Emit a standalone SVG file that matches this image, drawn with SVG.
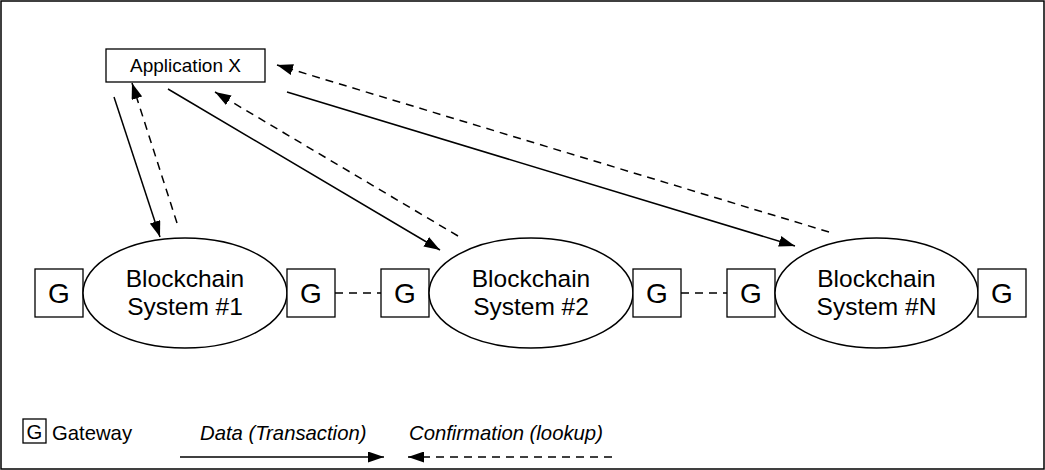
<svg xmlns="http://www.w3.org/2000/svg" width="1045" height="470" viewBox="0 0 1045 470">
<defs>
<marker id="ah" viewBox="0 0 16 11" refX="16" refY="5.5" markerWidth="16" markerHeight="11" markerUnits="userSpaceOnUse" orient="auto">
<path d="M0,0 L16,5.5 L0,11 Z" fill="#000"/>
</marker>
</defs>
<style>
text{font-family:"Liberation Sans",Arial,Helvetica,sans-serif;fill:#000}
.box{fill:#fff;stroke:#000;stroke-width:1.3}
.ell{fill:#fff;stroke:#000;stroke-width:1.5}
.g{font-size:28px;text-anchor:middle}
.bc{font-size:24.5px;text-anchor:middle}
.app{font-size:19px;text-anchor:middle}
.leg{font-size:20.3px}
.it{font-style:italic}
.solid{stroke:#000;stroke-width:1.5;fill:none}
.dash{stroke:#000;stroke-width:1.5;fill:none;stroke-dasharray:8,6}
</style>
<rect x="1" y="1" width="1043" height="468" fill="#fff" stroke="#000" stroke-width="1.5"/>

<g id="connectors">
<line class="solid" x1="114" y1="97" x2="160" y2="237" marker-end="url(#ah)"/>
<line class="dash" x1="177" y1="223" x2="132" y2="83" marker-end="url(#ah)"/>
<line class="solid" x1="168" y1="89" x2="440" y2="250" marker-end="url(#ah)"/>
<line class="dash" x1="458" y1="236" x2="215" y2="92" marker-end="url(#ah)"/>
<line class="solid" x1="287" y1="92" x2="795" y2="246" marker-end="url(#ah)"/>
<line class="dash" x1="829" y1="232" x2="277" y2="65" marker-end="url(#ah)"/>
<line class="dash" x1="335" y1="293" x2="381" y2="293"/>
<line class="dash" x1="681" y1="293" x2="727" y2="293"/>
</g>

<g id="app-x">
<rect class="box" x="106" y="49" width="159" height="33"/>
<text class="app" x="185.5" y="72">Application X</text>
</g>

<g id="gw-1a"><rect class="box" x="35" y="269" width="48" height="48"/><text class="g" x="59" y="303">G</text></g>
<g id="bc-1">
<ellipse class="ell" cx="185" cy="293" rx="102" ry="55"/>
<text class="bc" x="185" y="287">Blockchain</text>
<text class="bc" x="185" y="315">System #1</text>
</g>
<g id="gw-1b"><rect class="box" x="287" y="269" width="48" height="48"/><text class="g" x="311" y="303">G</text></g>

<g id="gw-2a"><rect class="box" x="381" y="269" width="48" height="48"/><text class="g" x="405" y="303">G</text></g>
<g id="bc-2">
<ellipse class="ell" cx="531" cy="293" rx="102" ry="55"/>
<text class="bc" x="531" y="287">Blockchain</text>
<text class="bc" x="531" y="315">System #2</text>
</g>
<g id="gw-2b"><rect class="box" x="633" y="269" width="48" height="48"/><text class="g" x="657" y="303">G</text></g>

<g id="gw-na"><rect class="box" x="727" y="269" width="48" height="48"/><text class="g" x="751" y="303">G</text></g>
<g id="bc-n">
<ellipse class="ell" cx="876.5" cy="293" rx="101.5" ry="55"/>
<text class="bc" x="876.5" y="287">Blockchain</text>
<text class="bc" x="876.5" y="315">System #N</text>
</g>
<g id="gw-nb"><rect class="box" x="978" y="269" width="48" height="48"/><text class="g" x="1002" y="303">G</text></g>

<g id="legend">
<rect class="box" x="23" y="419" width="23" height="24"/>
<text class="leg" x="34.5" y="439" text-anchor="middle">G</text>
<text class="leg" x="52" y="440">Gateway</text>
<text class="leg it" x="200" y="440">Data (Transaction)</text>
<line class="solid" x1="180" y1="457" x2="384" y2="457" marker-end="url(#ah)"/>
<text class="leg it" x="409" y="440">Confirmation (lookup)</text>
<line class="dash" x1="612" y1="457" x2="408" y2="457" marker-end="url(#ah)"/>
</g>
</svg>
